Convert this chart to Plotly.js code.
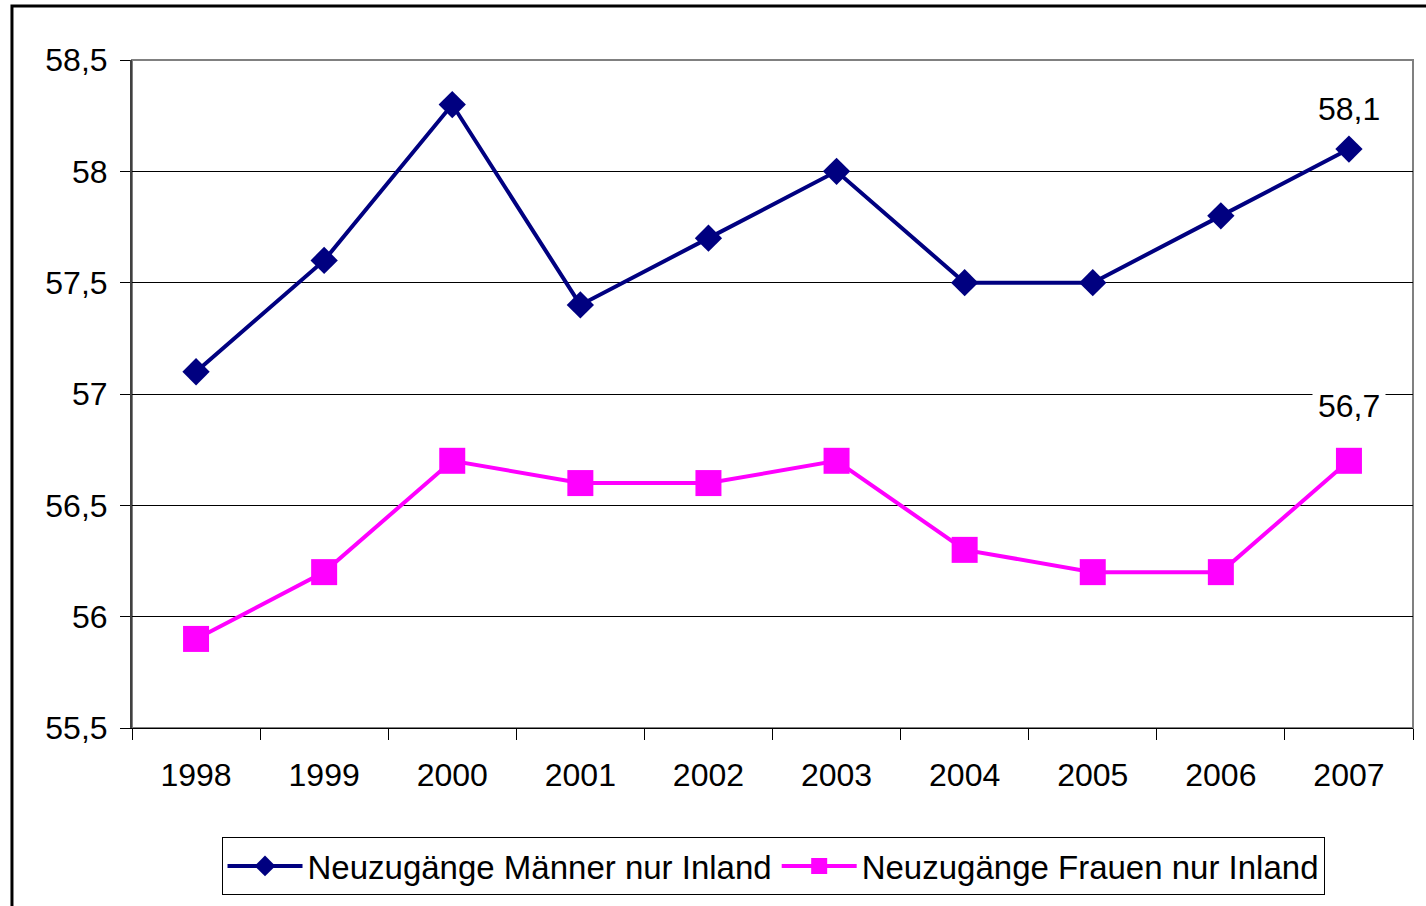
<!DOCTYPE html>
<html>
<head>
<meta charset="utf-8">
<script src="https://cdn.plot.ly/plotly-3.0.1.min.js"></script>
<style>
html,body{margin:0;padding:0;background:#fff;}
#chart{width:1426px;height:906px;}
</style>
</head>
<body>
<div id="chart"></div>
<script>
var years = ['1998','1999','2000','2001','2002','2003','2004','2005','2006','2007'];
var maenner = [57.1, 57.6, 58.3, 57.4, 57.7, 58.0, 57.5, 57.5, 57.8, 58.1];
var frauen  = [55.9, 56.2, 56.7, 56.6, 56.6, 56.7, 56.3, 56.2, 56.2, 56.7];
var seriesNames = ['Neuzugänge Männer nur Inland', 'Neuzugänge Frauen nur Inland'];

var FONT = '"Liberation Sans", Arial, sans-serif';
function fmt(v){ return String(v).replace('.', ','); }

var traces = [
  {
    x: years, y: maenner, name: seriesNames[0], type: 'scatter', mode: 'lines+markers',
    line: {color: '#000080', width: 4},
    marker: {symbol: 'diamond', size: 21, color: '#000080'},
    cliponaxis: false, hoverinfo: 'x+y'
  },
  {
    x: years, y: frauen, name: seriesNames[1], type: 'scatter', mode: 'lines+markers',
    line: {color: '#FF00FF', width: 4},
    marker: {symbol: 'square', size: 26, color: '#FF00FF'},
    cliponaxis: false, hoverinfo: 'x+y'
  }
];

var last = years.length - 1;
var layout = {
  width: 1426, height: 906,
  margin: {l: 132, r: 13, t: 60, b: 177},
  paper_bgcolor: '#ffffff', plot_bgcolor: '#ffffff',
  separators: ',.',
  font: {family: FONT, size: 32, color: '#000'},
  showlegend: true,
  xaxis: {
    type: 'category', range: [-0.5, 9.5],
    showline: true, linecolor: '#000', linewidth: 1,
    ticks: 'outside', tickson: 'boundaries', ticklen: 11, tickcolor: '#000', tickwidth: 1,
    showgrid: false, zeroline: false,
    tickfont: {family: FONT, size: 32, color: '#000'},
    ticklabelstandoff: 19,
    fixedrange: true
  },
  yaxis: {
    range: [55.5, 58.5], dtick: 0.5, tick0: 55.5,
    showline: true, linecolor: '#404040', linewidth: 2,
    ticks: 'outside', ticklen: 10, tickcolor: '#000', tickwidth: 1,
    showgrid: true, gridcolor: '#000', gridwidth: 1,
    zeroline: false,
    tickfont: {family: FONT, size: 32, color: '#000'},
    ticklabelstandoff: 6,
    fixedrange: true
  },
  legend: {
    orientation: 'h', x: 0.5004, xanchor: 'center', y: -0.1614, yanchor: 'top',
    bordercolor: '#000', borderwidth: 1, bgcolor: '#fff',
    font: {family: FONT, size: 33, color: '#000'},
    itemwidth: 75, tracegroupgap: 0,
    itemclick: false, itemdoubleclick: false
  },
  shapes: [
    {type: 'rect', xref: 'paper', yref: 'paper', x0: 0, x1: 1, y0: 0, y1: 1,
     line: {color: '#808080', width: 2}, layer: 'below'},
    {type: 'rect', xref: 'paper', yref: 'paper', x0: -0.0937, x1: 1.05, y0: -0.3, y1: 1.0807,
     line: {color: '#000', width: 3}, layer: 'below'}
  ],
  annotations: [
    {x: last, y: maenner[last], xref: 'x', yref: 'y', text: fmt(maenner[last]),
     showarrow: false, yshift: 40, font: {family: FONT, size: 32, color: '#000'}},
    {x: last, y: frauen[last], xref: 'x', yref: 'y', text: fmt(frauen[last]),
     showarrow: false, yshift: 55, bgcolor: '#fff', borderpad: 5,
     font: {family: FONT, size: 32, color: '#000'}}
  ]
};

Plotly.newPlot('chart', traces, layout, {displayModeBar: false, staticPlot: true});
</script>
</body>
</html>
